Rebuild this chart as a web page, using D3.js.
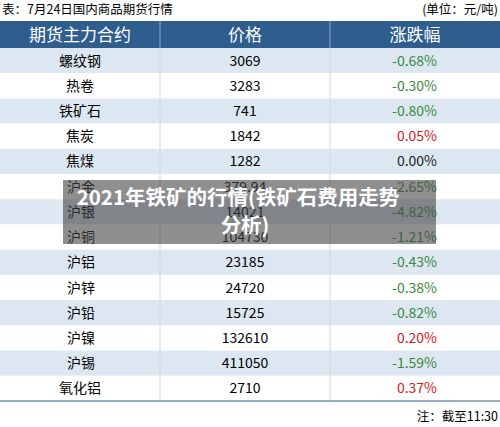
<!DOCTYPE html><html><head><meta charset="utf-8"><script src="https://cdn.jsdelivr.net/npm/d3@7"></script>
<style>body{margin:0;background:#fff}svg{display:block;font-family:"Noto Sans CJK SC","Noto Sans",sans-serif}</style></head><body><svg width="500" height="427"></svg><script>
const names=["螺纹钢","热卷","铁矿石","焦炭","焦煤","沪金","沪银","沪铜","沪铝","沪锌","沪铅","沪镍","沪锡","氧化铝"];
const prices=["3069","3283","741","1842","1282","379.94","14021","104730","23185","24720","15725","132610","411050","2710"];
const changes=[-0.68,-0.30,-0.80,0.05,0.00,-2.65,-4.82,-1.21,-0.43,-0.38,-0.82,0.20,-1.59,0.37];
const headers=["期货主力合约","价格","涨跌幅"];
const svg=d3.select("svg");
const y=d3.scaleBand().domain(d3.range(names.length)).range([48,401]);
const cols=[0,160,330,500];
svg.append("text").attr("x",2).attr("y",14).attr("font-size",12.5).text("表：7月24日国内商品期货行情");
svg.append("text").attr("x",498).attr("y",14).attr("text-anchor","end").attr("font-size",12.5).text("(单位：元/吨)");
svg.append("rect").attr("x",0).attr("y",21).attr("width",500).attr("height",27).attr("fill","#2e5d8e");
headers.forEach((h,i)=>svg.append("text").attr("x",(cols[i]+cols[i+1])/2).attr("y",41).attr("text-anchor","middle").attr("fill","#fff").attr("font-size",17).text(h));
[160,330].forEach(x=>svg.append("line").attr("x1",x).attr("x2",x).attr("y1",21).attr("y2",48).attr("stroke","#8aaad0"));
const g=svg.selectAll("g.r").data(names).join("g");
g.append("rect").attr("x",0).attr("y",(d,i)=>y(i)).attr("width",500).attr("height",y.bandwidth()).attr("fill",(d,i)=>i%2==0?"#dde7f2":"#fff");
[160,330].forEach(x=>svg.append("line").attr("x1",x).attr("x2",x).attr("y1",48).attr("y2",401).attr("stroke","#d0d8e2"));
g.append("text").attr("x",(d,i)=>i>=5&&i<=12?67:80).attr("text-anchor",(d,i)=>i>=5&&i<=12?"start":"middle").attr("y",(d,i)=>y(i)+y.bandwidth()/2+5).attr("font-size",14).text(d=>d);
g.append("text").attr("x",245).attr("text-anchor","middle").attr("y",(d,i)=>y(i)+y.bandwidth()/2+5).attr("font-size",14).text((d,i)=>prices[i]);
g.append("text").attr("x",437).attr("text-anchor","end").attr("y",(d,i)=>y(i)+y.bandwidth()/2+5).attr("font-size",14)
 .attr("fill",(d,i)=>changes[i]<0?"#3a8a3a":changes[i]>0?"#d42020":"#222").text((d,i)=>changes[i].toFixed(2)+"%");
svg.append("line").attr("x1",0).attr("x2",500).attr("y1",401).attr("y2",401).attr("stroke","#2e5d8e");
svg.append("text").attr("x",498).attr("y",421).attr("text-anchor","end").attr("font-size",12.5).text("注：截至11:30");
svg.append("rect").attr("x",63).attr("y",180).attr("width",373).attr("height",64).attr("fill","#444").attr("opacity",0.6);
svg.append("text").attr("x",238).attr("y",205).attr("text-anchor","middle").attr("fill","#fff").attr("font-weight","bold").attr("font-size",20.5).text("2021年铁矿的行情(铁矿石费用走势");
svg.append("text").attr("x",245).attr("y",233).attr("text-anchor","middle").attr("fill","#fff").attr("font-weight","bold").attr("font-size",20.5).text("分析)");
</script></body></html>
